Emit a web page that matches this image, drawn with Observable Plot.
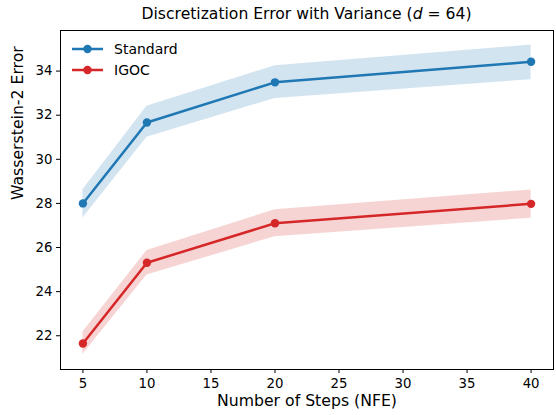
<!DOCTYPE html>
<html>
<head>
<meta charset="utf-8">
<script src="https://cdn.jsdelivr.net/npm/d3@7"></script>
<script src="https://cdn.jsdelivr.net/npm/@observablehq/plot@0.6"></script>
<style>
  html, body { margin: 0; padding: 0; background: #fff; }
  #wrap { position: relative; width: 556px; height: 415px; font-family: "DejaVu Sans", sans-serif; }
  #title { position: absolute; left: 60px; width: 493px; top: 5px; text-align: center; font-size: 15.6px; line-height: 18px; color: #000; white-space: nowrap; }
  #legend { position: absolute; left: 71px; top: 38px; font-size: 14px; color: #000; }
  .entry { display: flex; align-items: center; height: 21.5px; }
  .entry svg { margin-right: 10px; }
</style>
</head>
<body>
<div id="wrap">
  <div id="chart"></div>
  <div id="title">Discretization Error with Variance (<i>d</i> = 64)</div>
  <div id="legend"></div>
</div>
<script>
const steps = [5, 10, 20, 40];
const seriesNames = ["Standard", "IGOC"];
const seriesColors = ["#1f77b4", "#d62728"];
const standardMean = [28.0, 31.67, 33.49, 34.42];
const standardLow = [27.34, 31.0, 32.76, 33.61];
const standardHigh = [28.62, 32.41, 34.24, 35.18];
const igocMean = [21.65, 25.31, 27.10, 27.98];
const igocLow = [21.16, 24.75, 26.49, 27.33];
const igocHigh = [22.17, 25.86, 27.71, 28.61];
const xTicks = [5, 10, 15, 20, 25, 30, 35, 40];
const yTicks = [22, 24, 26, 28, 30, 32, 34];
const xLabel = "Number of Steps (NFE)";
const yLabel = "Wasserstein-2 Error";

const means = [standardMean, igocMean];
const lows = [standardLow, igocLow];
const highs = [standardHigh, igocHigh];

const rows = [];
seriesNames.forEach((name, s) => {
  steps.forEach((x, i) => {
    rows.push({series: name, x, mean: means[s][i], low: lows[s][i], high: highs[s][i]});
  });
});

const marks = [];
seriesNames.forEach((name, s) => {
  const d = rows.filter(r => r.series === name);
  marks.push(Plot.areaY(d, {x: "x", y1: "low", y2: "high", fill: seriesColors[s], fillOpacity: 0.2}));
  marks.push(Plot.line(d, {x: "x", y: "mean", stroke: seriesColors[s], strokeWidth: 2.5}));
  marks.push(Plot.dot(d, {x: "x", y: "mean", fill: seriesColors[s], r: 4.2}));
});

const chart = Plot.plot({
  width: 556,
  height: 415,
  marginLeft: 60,
  marginRight: 3,
  marginTop: 30,
  marginBottom: 46,
  style: {fontFamily: "DejaVu Sans, sans-serif", fontSize: "13.3px", color: "#000", background: "#fff"},
  x: {domain: [3.25, 41.75]},
  y: {domain: [20.47, 35.84]},
  marks: [
    ...marks,
    Plot.frame({stroke: "#000", strokeWidth: 1}),
    Plot.axisX({ticks: xTicks, tickSize: 4, tickPadding: 5, label: null, fontSize: 13.3, tickFormat: d => String(d)}),
    Plot.axisY({ticks: yTicks, tickSize: 4, tickPadding: 4, label: null, fontSize: 13.3, tickFormat: d => String(d)}),
    Plot.text([xLabel], {text: d => d, frameAnchor: "bottom", dy: 36, fontSize: 15.7}),
    Plot.text([yLabel], {text: d => d, frameAnchor: "left", dx: -43, rotate: -90, fontSize: 15.7})
  ]
});
document.getElementById("chart").appendChild(chart);

const legend = document.getElementById("legend");
seriesNames.forEach((name, s) => {
  const e = document.createElement("div");
  e.className = "entry";
  e.innerHTML = `<svg width="33" height="12"><line x1="1" x2="32" y1="6" y2="6" stroke="${seriesColors[s]}" stroke-width="2.5"/><circle cx="16.5" cy="6" r="4.2" fill="${seriesColors[s]}"/></svg><span>${name}</span>`;
  legend.appendChild(e);
});
</script>
</body>
</html>
